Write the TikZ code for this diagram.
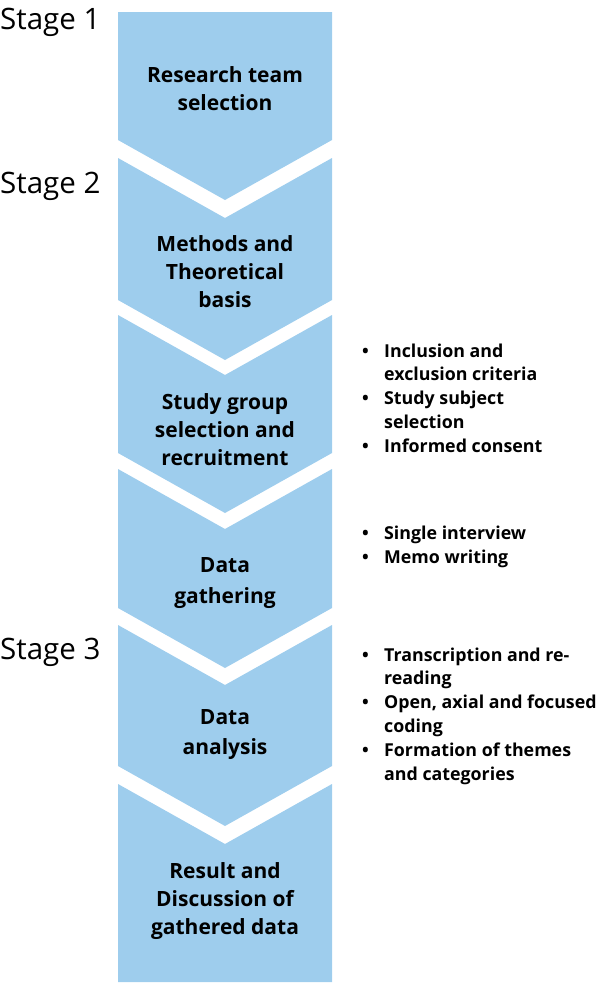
\documentclass[tikz,border=0pt]{standalone}
\usepackage{fontspec}
\setmainfont{Open Sans}
\definecolor{chev}{RGB}{158,205,237}
\newcommand{\bitem}[1]{\makebox[22pt][l]{\textbullet}#1}
\newcommand{\bcont}[1]{\hspace*{22pt}#1}
\tikzset{
  chevfill/.style={fill=chev, draw=none},
  boxtext/.style={align=center, font=\bfseries\fontsize{21}{28}\selectfont, inner sep=0pt},
  stagetext/.style={anchor=base west, font=\fontsize{29.5}{34}\selectfont, inner sep=0pt},
  listtext/.style={anchor=west, align=left, font=\bfseries\fontsize{17.8}{23.8}\selectfont, inner sep=0pt}
}
\begin{document}
\begin{tikzpicture}[x=1pt,y=-1pt]
\useasboundingbox (0,0) rectangle (597,986);
\def\L{118}\def\R{332}\def\C{225}
% chevrons
\fill[chevfill] (\L,12) -- (\R,12) -- (\R,140) -- (\C,200) -- (\L,140) -- cycle;
\fill[chevfill] (\L,158) -- (\C,218) -- (\R,158) -- (\R,300) -- (\C,360) -- (\L,300) -- cycle;
\fill[chevfill] (\L,315) -- (\C,375) -- (\R,315) -- (\R,453) -- (\C,513) -- (\L,453) -- cycle;
\fill[chevfill] (\L,469) -- (\C,529) -- (\R,469) -- (\R,608) -- (\C,668) -- (\L,608) -- cycle;
\fill[chevfill] (\L,625) -- (\C,685) -- (\R,625) -- (\R,766) -- (\C,826) -- (\L,766) -- cycle;
\fill[chevfill] (\L,784) -- (\C,844) -- (\R,784) -- (\R,982) -- (\L,982) -- cycle;
% box texts
\node[boxtext] (t1) at (\C,89) {Research team\\selection};
\node[boxtext] (t2) at (\C,272) {Methods and\\Theoretical\\basis};
\node[boxtext] (t3) at (\C,430) {Study group\\selection and\\recruitment};
\node[boxtext, font=\bfseries\fontsize{21}{31}\selectfont] (t4) at (\C,583) {Data\\gathering};
\node[boxtext, font=\bfseries\fontsize{21}{30}\selectfont] (t5) at (\C,735) {Data\\analysis};
\node[boxtext] (t6) at (\C,901) {Result and\\Discussion of\\gathered data};
% stage labels
\node[stagetext] (s1) at (0,29) {Stage 1};
\node[stagetext] (s2) at (0,193) {Stage 2};
\node[stagetext] (s3) at (0,659) {Stage 3};
% lists
\node[listtext] (l1) at (362,398) {\bitem{Inclusion and}\\\bcont{exclusion criteria}\\\bitem{Study subject}\\\bcont{selection}\\\bitem{Informed consent}};
\node[listtext] (l2) at (362,547) {\bitem{Single interview}\\\bitem{Memo writing}};
\node[listtext] (l3) at (362,716) {\bitem{Transcription and re-}\\\bcont{reading}\\\bitem{Open, axial and focused}\\\bcont{coding}\\\bitem{Formation of themes}\\\bcont{and categories}};
\end{tikzpicture}
\end{document}
